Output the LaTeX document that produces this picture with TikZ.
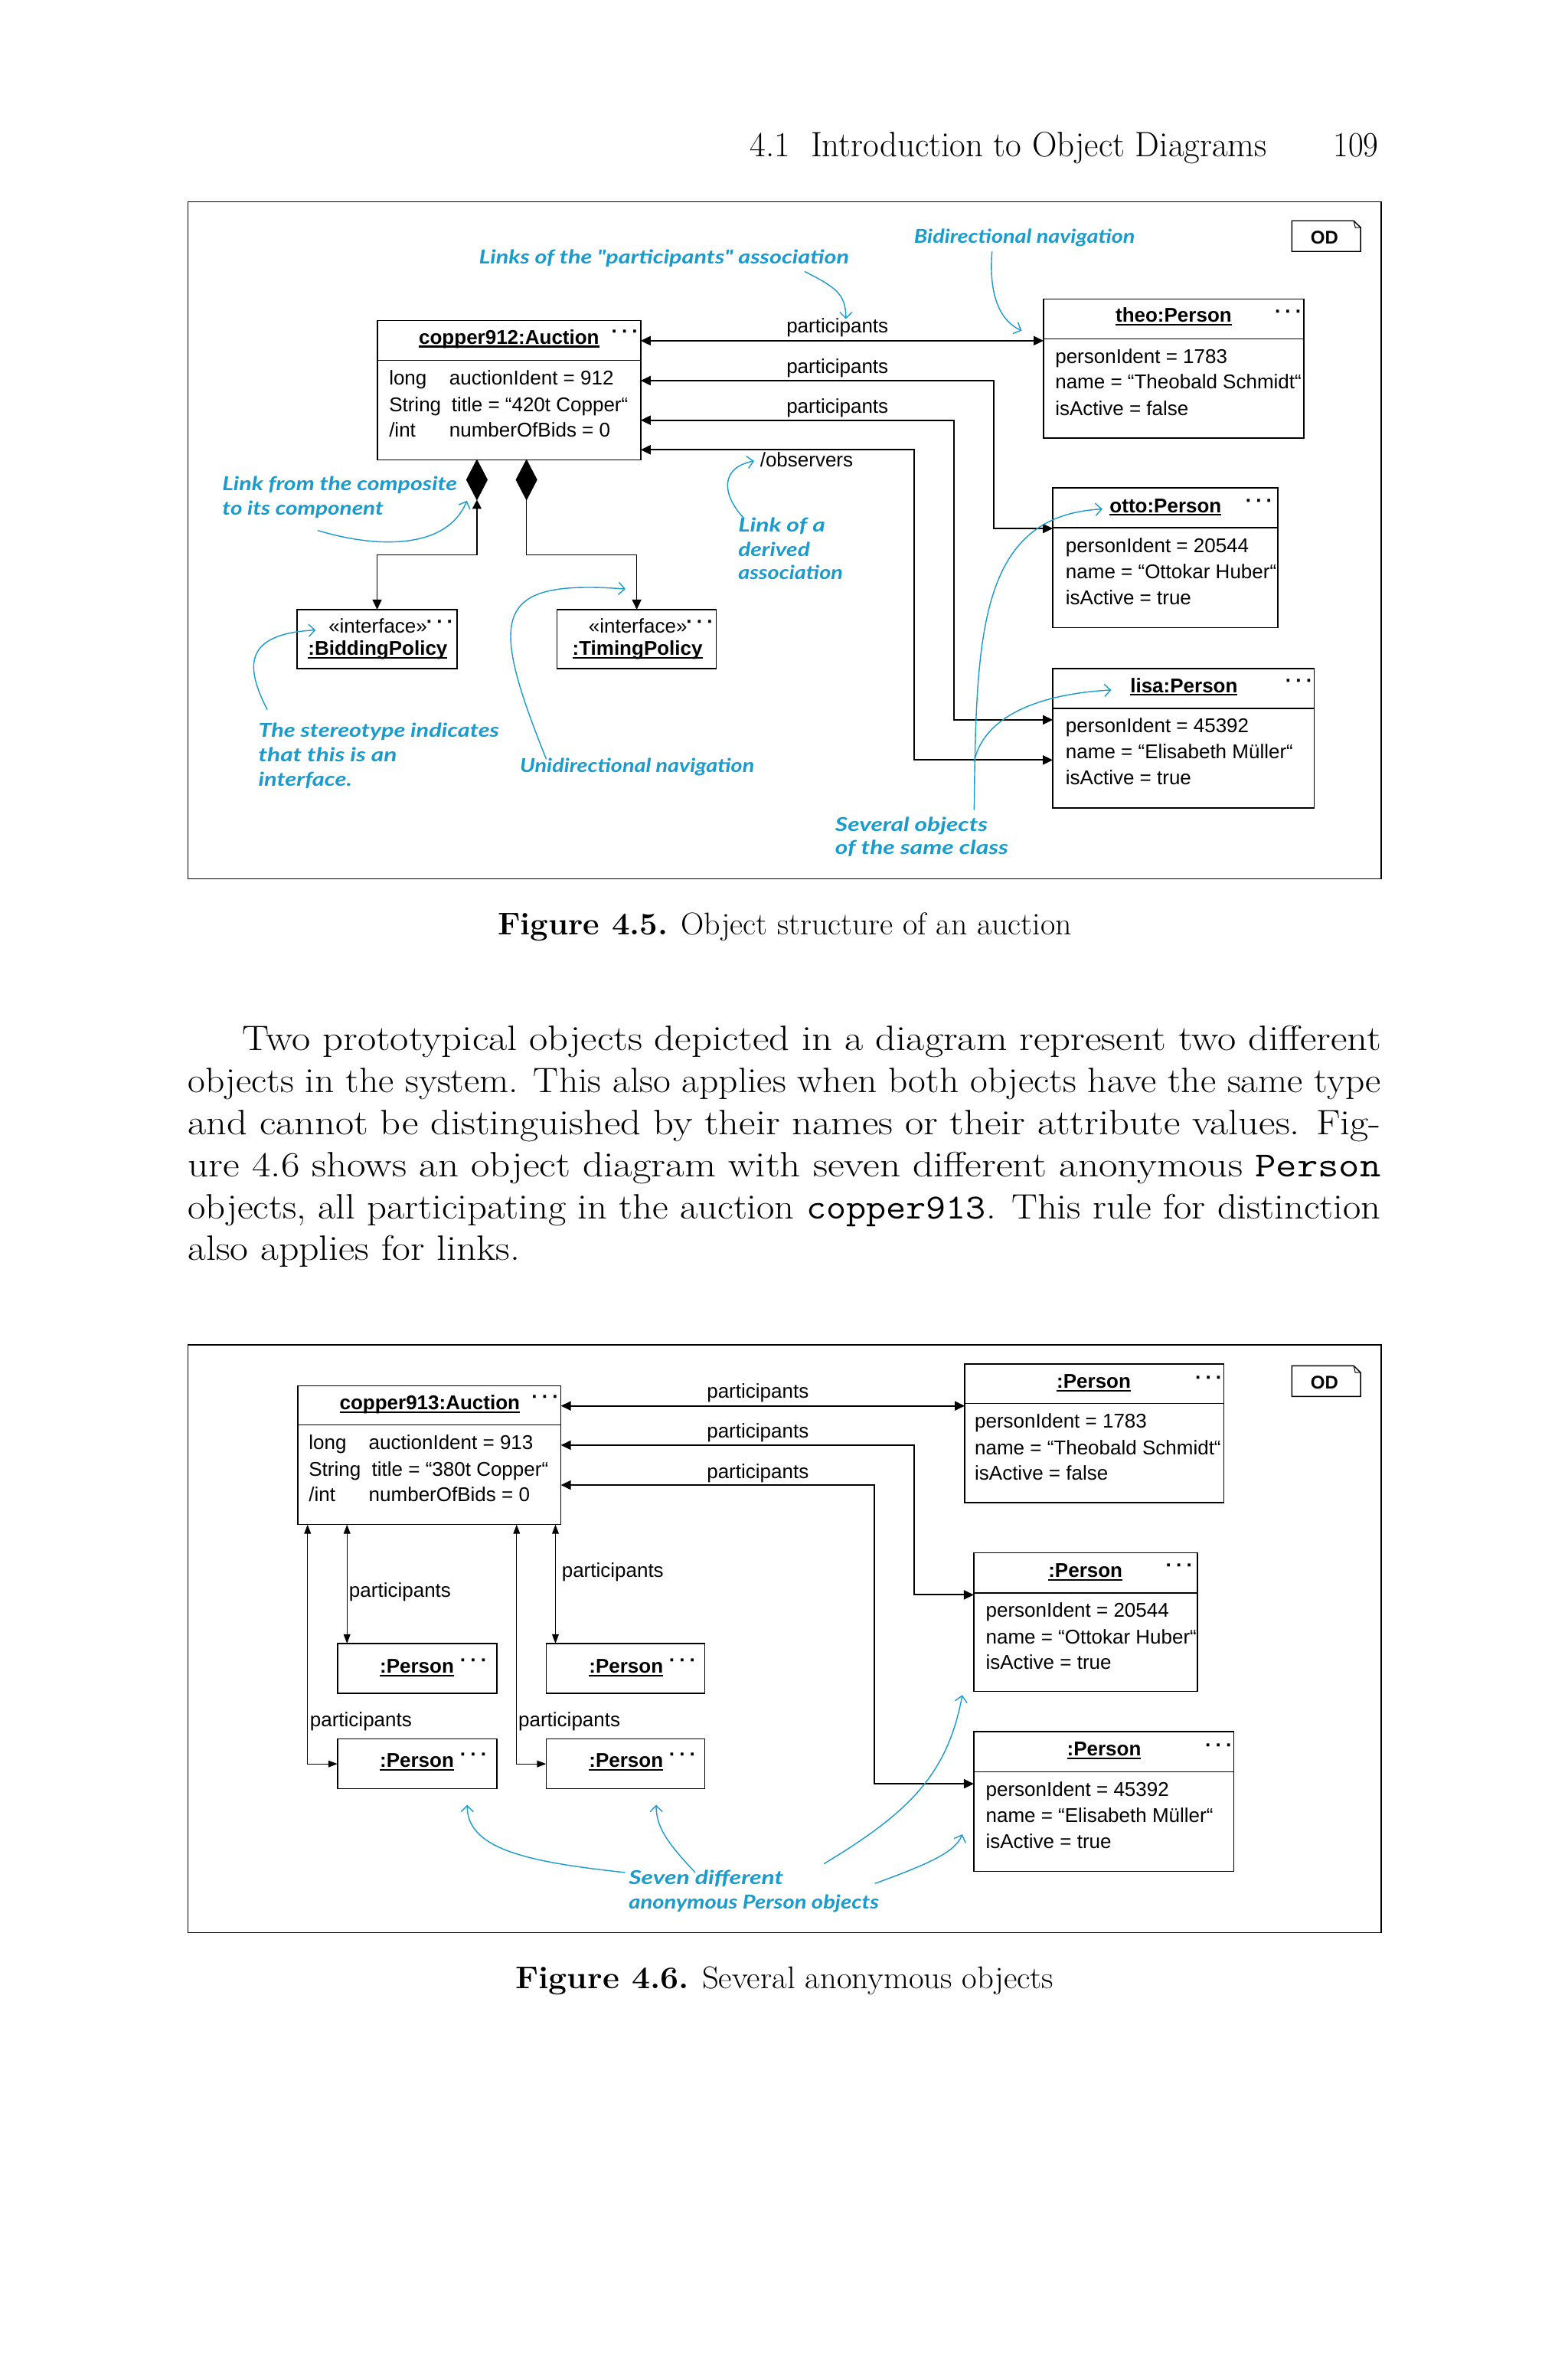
\documentclass[tikz,border=0pt]{standalone}
\usepackage{fontspec}
\newfontfamily\arial{Liberation Sans}
\newfontfamily\notefont{Lato}
\usetikzlibrary{arrows.meta,fit,shapes.geometric}
\definecolor{notec}{RGB}{25,155,205}
\newsavebox\ulbox
\newcommand\myul[1]{\sbox\ulbox{#1}\rlap{\rule[-2.2pt]{\wd\ulbox}{1.1pt}}\usebox\ulbox}
\newcommand\tdots{·\kern2.4pt·\kern2.4pt·}
\newcommand\fitw[2]{\resizebox{#1}{\height}{#2}}
\begin{document}
\begin{tikzpicture}[x=0.99pt,y=-0.99pt,
  every node/.style={inner sep=0pt,outer sep=0pt},
  box/.style={draw,line width=0.75pt,inner sep=0pt},
  sepline/.style={line width=0.75pt},
  frame/.style={draw,line width=0.8pt},
  dtxt/.style={font=\arial\fontsize{13}{15}\selectfont,anchor=mid west},
  dlab/.style={font=\arial\fontsize{13}{15}\selectfont,anchor=mid},
  dtitle/.style={font=\arial\bfseries\fontsize{13}{15}\selectfont,anchor=mid},
  ddots/.style={font=\arial\bfseries\fontsize{13}{15}\selectfont,anchor=center},
  odtxt/.style={font=\arial\bfseries\fontsize{12}{14}\selectfont,anchor=center},
  note/.style={font=\notefont\bfseries\itshape\fontsize{12.5}{15}\selectfont,text=notec,anchor=mid west},
  notearrow/.style={draw=notec,line width=0.7pt,arrows={-Straight Barb[length=4pt,width=8pt]}},
  link/.style={line width=0.9pt,arrows={Triangle[length=6.5pt,width=6pt]-Triangle[length=6.5pt,width=6pt]}},
  thinlink/.style={line width=0.6pt,arrows={Triangle[length=6pt,width=4.4pt]-Triangle[length=6pt,width=4.4pt]}},
  comptwo/.style={line width=0.75pt,arrows={-Triangle[length=6.5pt,width=6pt]}},
  compone/.style={line width=0.75pt,arrows={Triangle[length=6pt,width=6pt]-Triangle[length=6.5pt,width=6pt]}},
  dia/.style={diamond,fill=black,draw=black,line width=0.5pt,minimum width=13.5pt,minimum height=26pt,inner sep=0pt},
  body/.style={font=\fontsize{23}{27}\selectfont,anchor=base west},
  figcap/.style={font=\fontsize{20.5}{24}\selectfont,anchor=base}
]
\useasboundingbox (0,0) rectangle (1034.34,1568.18);
\fill[white] (0,0) rectangle (1034.34,1568.18);

% ---------------- header ----------------
\node[body] (head) at (494.7,103.5) {\fitw{337.6pt}{4.1\hspace{0.6em}Introduction to Object Diagrams}};
\node[body] (pageno) at (879.5,103.5) {\fitw{29.6pt}{109}};

% ---------------- figure 4.5 ----------------
\node[frame,fit={(124,133)(911,579.5)}] (frameA) {};
\draw[line width=0.7pt] (852.2,145.6) -- (893,145.6) -- (897.5,150) -- (897.5,165.8) -- (852.2,165.8) -- cycle;
\draw[line width=0.5pt] (893,145.6) -- (894,150) -- (897.5,150);
\node[odtxt] (odA) at (873.7,156.6) {OD};

% auction
\node[box,fit={(249,211.4)(422.6,303.4)}] (auc1) {};
\draw[sepline] (auc1.west |- 0,237.7) -- (auc1.east |- 0,237.7);
\node[dtitle] (auc1t) at (335.8,224.7) {\myul{copper912:Auction}};
\node[ddots] (auc1d) at (412.3,220.5) {\tdots};
\node[dtxt] (auc1a) at (256.7,251.7) {long};
\node[dtxt] (auc1b) at (296.4,251.7) {auctionIdent = 912};
\node[dtxt] (auc1c) at (256.7,269.4) {String};
\node[dtxt] (auc1e) at (297.9,269.4) {title = “420t Copper“};
\node[dtxt] (auc1f) at (256.7,286.2) {/int};
\node[dtxt] (auc1g) at (296.4,286.2) {numberOfBids = 0};

% theo
\node[box,fit={(688.4,197.1)(860,289)}] (theo) {};
\draw[sepline] (theo.west |- 0,223.4) -- (theo.east |- 0,223.4);
\node[dtitle] (theot) at (774.2,210.4) {\myul{theo:Person}};
\node[ddots] (theod) at (849.9,207.4) {\tdots};
\node[dtxt] (theoa) at (696.1,237.4) {personIdent = 1783};
\node[dtxt] (theob) at (696.1,254.2) {name = “Theobald Schmidt“};
\node[dtxt] (theoc) at (696.1,271.9) {isActive = false};

% otto
\node[box,fit={(694.5,321.7)(843,414)}] (otto) {};
\draw[sepline] (otto.west |- 0,348) -- (otto.east |- 0,348);
\node[dtitle] (ottot) at (768.9,335.7) {\myul{otto:Person}};
\node[ddots] (ottod) at (830.6,332) {\tdots};
\node[dtxt] (ottoa) at (703,362) {personIdent = 20544};
\node[dtxt] (ottob) at (703,379.2) {name = “Ottokar Huber“};
\node[dtxt] (ottoc) at (703,396.4) {isActive = true};

% lisa
\node[box,fit={(694.5,440.8)(866.9,532.9)}] (lisa) {};
\draw[sepline] (lisa.west |- 0,467.1) -- (lisa.east |- 0,467.1);
\node[dtitle] (lisat) at (781,454.4) {\myul{lisa:Person}};
\node[ddots] (lisad) at (856.9,450.8) {\tdots};
\node[dtxt] (lisaa) at (703,480.7) {personIdent = 45392};
\node[dtxt] (lisab) at (703,497.9) {name = “Elisabeth Müller“};
\node[dtxt] (lisac) at (703,515.2) {isActive = true};

% links of figure 4.5
\draw[link] (auc1.east |- 0,224.7) -- (theo.west |- 0,224.7);
\draw[link] (auc1.east |- 0,251) -| (655.5,348.5) -- (otto.west |- 0,348.5);
\draw[link] (auc1.east |- 0,277.1) -| (629.3,474.7) -- (lisa.west |- 0,474.7);
\draw[link] (auc1.east |- 0,296.6) -| (603,501.2) -- (lisa.west |- 0,501.2);
\node[dlab] (lab1) at (552.4,217.5) {participants};
\node[dlab] (lab2) at (552.4,243.8) {participants};
\node[dlab] (lab3) at (552.4,270.4) {participants};
\node[dtxt] (lab4) at (501.4,305.6) {/observers};

% composition
\node[dia] (dL) at (314.6,316.4) {};
\node[dia] (dR) at (347.3,316.4) {};
\node[box,fit={(196,402)(301.5,441)}] (bid) {};
\node[box,fit={(367.5,402)(472.5,441)}] (tim) {};
\draw[compone] (dL.south) -- (dL.south |- 0,366) -| (bid.north);
\draw[comptwo] (dR.south) -- (dR.south |- 0,366) -| (tim.north);
\node[dtxt] (bidst) at (216.8,415) {«interface»};
\node[ddots] (bidd) at (290.2,411.6) {\tdots};
\node[dtitle] (bidt) at (249.2,430.1) {\myul{:BiddingPolicy}};
\node[dtxt] (timst) at (388.3,415) {«interface»};
\node[ddots] (timd) at (461.7,411.6) {\tdots};
\node[dtitle] (timt) at (420.5,430.1) {\myul{:TimingPolicy}};

% annotations of figure 4.5
\node[note] (n1) at (316,171.7) {\fitw{241.6pt}{Links of the "participants" association}};
\node[note] (n2) at (602.9,158.2) {\fitw{144.3pt}{Bidirectional navigation}};
\node[note] (n3a) at (146.7,321.2) {\fitw{153.3pt}{Link from the composite}};
\node[note] (n3b) at (146.7,337.5) {\fitw{105.2pt}{to its component}};
\node[note] (n4a) at (487,348.4) {\fitw{56.8pt}{Link of a}};
\node[note] (n4b) at (487,364.7) {\fitw{46.8pt}{derived}};
\node[note] (n4c) at (487,380.1) {\fitw{68.3pt}{association}};
\node[note] (n5a) at (170.5,483.8) {\fitw{157.2pt}{The stereotype indicates}};
\node[note] (n5b) at (170.5,500.2) {\fitw{90.4pt}{that this is an}};
\node[note] (n5c) at (170.5,516) {\fitw{61.1pt}{interface.}};
\node[note] (n6) at (343,507) {\fitw{153pt}{Unidirectional navigation}};
\node[note] (n7a) at (551,546) {\fitw{99.6pt}{Several objects}};
\node[note] (n7b) at (551,561.4) {\fitw{113pt}{of the same class}};

\draw[notearrow] (530.8,179) .. controls (550,189) and (558,193) .. (558,210.4);
\draw[notearrow] (654.4,165.8) .. controls (652,195) and (660,212) .. (674,218);
\draw[notearrow] (209.6,349.8) .. controls (250,362) and (295,362) .. (308,330.2);
\draw[notearrow] (490.9,342) .. controls (475,325) and (476,308) .. (497.5,304);
\draw[notearrow] (176.3,468) .. controls (162,440) and (160,418) .. (208.2,415.5);
\draw[notearrow] (360.4,500.7) .. controls (322,405) and (325,382) .. (412.6,388.4);
\draw[notearrow] (642.6,534.2) .. controls (644,420) and (645,340) .. (727.2,335.7);
\draw[notearrow] (642.6,502.5) .. controls (648,475) and (680,458) .. (733.1,455);

\node[figcap,anchor=base west] (capA) at (328.3,616.2) {\fitw{374.9pt}{\textbf{Figure 4.5.} Object structure of an auction}};

% ---------------- paragraph ----------------
\node[body] (pl1) at (159.8,692.8) {\fitw{743.7pt}{Two prototypical objects depicted in a diagram represent two different}};
\node[body] (pl2) at (124,720.5) {\fitw{779.1pt}{objects in the system. This also applies when both objects have the same type}};
\node[body] (pl3) at (124,748.2) {\fitw{779.1pt}{and cannot be distinguished by their names or their attribute values. Fig-}};
\node[body] (pl4) at (124,775.9) {\fitw{779.1pt}{ure 4.6 shows an object diagram with seven different anonymous {\ttfamily Person}}};
\node[body] (pl5) at (124,803.6) {\fitw{779.1pt}{objects, all participating in the auction {\ttfamily copper913}. This rule for distinction}};
\node[body] (pl6) at (124,831.3) {\fitw{216.8pt}{also applies for links.}};

% ---------------- figure 4.6 ----------------
\node[frame,fit={(124,887)(911,1274.4)}] (frameB) {};
\draw[line width=0.7pt] (852.2,900.7) -- (893,900.7) -- (897.5,905.1) -- (897.5,920.9) -- (852.2,920.9) -- cycle;
\draw[line width=0.5pt] (893,900.7) -- (894,905.1) -- (897.5,905.1);
\node[odtxt] (odB) at (873.7,911.7) {OD};

\node[box,fit={(196.4,913.8)(370,1005.4)}] (auc2) {};
\draw[sepline] (auc2.west |- 0,939.7) -- (auc2.east |- 0,939.7);
\node[dtitle] (auc2t) at (283.5,927.3) {\myul{copper913:Auction}};
\node[ddots] (auc2d) at (359.7,922.6) {\tdots};
\node[dtxt] (auc2a) at (203.7,953.7) {long};
\node[dtxt] (auc2b) at (243.3,953.7) {auctionIdent = 913};
\node[dtxt] (auc2c) at (203.7,971.4) {String};
\node[dtxt] (auc2e) at (245.3,971.4) {title = “380t Copper“};
\node[dtxt] (auc2f) at (203.7,988.2) {/int};
\node[dtxt] (auc2g) at (243.3,988.2) {numberOfBids = 0};

\node[box,fit={(636.4,899.5)(807.4,991)}] (pa) {};
\draw[sepline] (pa.west |- 0,925.6) -- (pa.east |- 0,925.6);
\node[dtitle] (pat) at (721.5,913.3) {\myul{:Person}};
\node[ddots] (pad) at (797.4,910) {\tdots};
\node[dtxt] (paa) at (643,939.4) {personIdent = 1783};
\node[dtxt] (pab) at (643,957) {name = “Theobald Schmidt“};
\node[dtxt] (pac) at (643,974) {isActive = false};

\node[box,fit={(642.4,1024)(790,1115.5)}] (pb) {};
\draw[sepline] (pb.west |- 0,1050.5) -- (pb.east |- 0,1050.5);
\node[dtitle] (pbt) at (716,1037.9) {\myul{:Person}};
\node[ddots] (pbd) at (778,1034) {\tdots};
\node[dtxt] (pba) at (650.3,1064) {personIdent = 20544};
\node[dtxt] (pbb) at (650.3,1081.7) {name = “Ottokar Huber“};
\node[dtxt] (pbc) at (650.3,1098.8) {isActive = true};

\node[box,fit={(642.4,1142)(814,1234)}] (pc) {};
\draw[sepline] (pc.west |- 0,1168.4) -- (pc.east |- 0,1168.4);
\node[dtitle] (pct) at (728.3,1155.7) {\myul{:Person}};
\node[ddots] (pcd) at (804,1152.4) {\tdots};
\node[dtxt] (pca) at (650.3,1182.2) {personIdent = 45392};
\node[dtxt] (pcb) at (650.3,1199.5) {name = “Elisabeth Müller“};
\node[dtxt] (pcc) at (650.3,1216.8) {isActive = true};

\node[box,fit={(222.6,1083.8)(327.8,1116.7)}] (sA) {};
\node[dtitle] (sAt) at (275,1101) {\myul{:Person}};
\node[ddots] (sAd) at (312.5,1096.3) {\tdots};
\node[box,fit={(360.3,1083.8)(464.8,1116.7)}] (sB) {};
\node[dtitle] (sBt) at (413,1101) {\myul{:Person}};
\node[ddots] (sBd) at (450.3,1096.3) {\tdots};
\node[box,fit={(222.6,1146.8)(327.8,1179.6)}] (sC) {};
\node[dtitle] (sCt) at (275,1163.3) {\myul{:Person}};
\node[ddots] (sCd) at (312.5,1158.6) {\tdots};
\node[box,fit={(360.3,1146.8)(464.8,1179.6)}] (sD) {};
\node[dtitle] (sDt) at (413,1163.3) {\myul{:Person}};
\node[ddots] (sDd) at (450.3,1158.6) {\tdots};

% links of figure 4.6
\draw[link] (auc2.east |- 0,927.1) -- (pa.west |- 0,927.1);
\draw[link] (auc2.east |- 0,953) -| (602.9,1051.7) -- (pb.west |- 0,1051.7);
\draw[link] (auc2.east |- 0,979.3) -| (576.6,1176.3) -- (pc.west |- 0,1176.3);
\draw[thinlink] (auc2.south -| 202.9,0) |- (sC.west);
\draw[thinlink] (auc2.south -| 228.9,0) -- (sA.north -| 228.9,0);
\draw[thinlink] (auc2.south -| 340.8,0) |- (sD.west);
\draw[thinlink] (auc2.south -| 366.4,0) -- (sB.north -| 366.4,0);
\node[dlab] (m1) at (499.9,920) {participants};
\node[dlab] (m2) at (499.9,946.1) {participants};
\node[dlab] (m3) at (499.9,972.6) {participants};
\node[dtxt] (m5) at (230.3,1051.3) {participants};
\node[dtxt] (m7) at (370.6,1038) {participants};
\node[dtxt] (m4) at (204.5,1136.4) {participants};
\node[dtxt] (m6) at (342,1136.4) {participants};

\node[note] (s1) at (414.8,1240.7) {\fitw{101pt}{Seven different}};
\node[note] (s2) at (414.8,1256.7) {\fitw{163.3pt}{anonymous Person objects}};
\draw[notearrow] (412.3,1234.8) .. controls (350,1228) and (308,1220) .. (308.2,1190.2);
\draw[notearrow] (458.6,1234.8) .. controls (440,1215) and (433,1205) .. (432.8,1190.2);
\draw[notearrow] (543.6,1229) .. controls (600,1195) and (625,1170) .. (634.8,1117.8);
\draw[notearrow] (577.1,1242.1) .. controls (610,1230) and (630,1222) .. (634.8,1209.6);

\node[figcap,anchor=base west] (capB) at (340,1311.2) {\fitw{351.5pt}{\textbf{Figure 4.6.} Several anonymous objects}};
\end{tikzpicture}
\end{document}
